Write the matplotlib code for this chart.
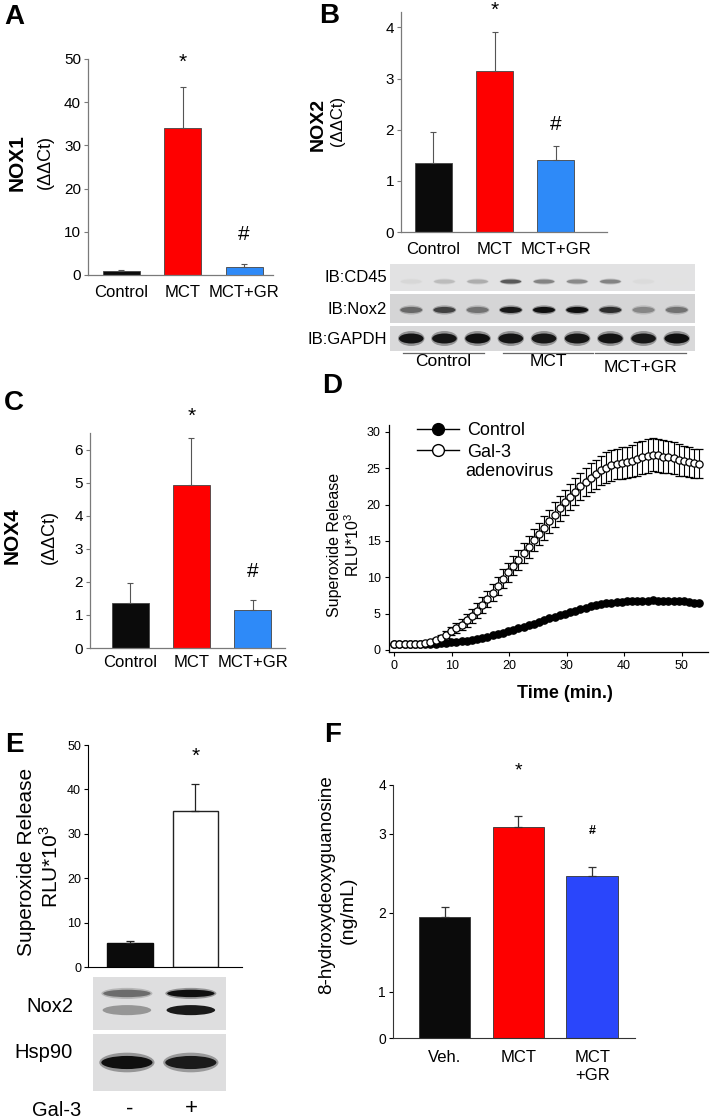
import numpy as np
import matplotlib.pyplot as plt
from matplotlib.patches import Ellipse
from matplotlib.lines import Line2D

plt.rcParams['font.family'] = ['Liberation Sans', 'DejaVu Sans']
plt.rcParams['mathtext.fontset'] = 'custom'
plt.rcParams['mathtext.rm'] = 'Liberation Sans'

W, H = 714, 1118

# ---- data ----
groups = ['Control', 'MCT', 'MCT+GR']
nox1 = [1.0, 34.0, 1.9]
nox1_err = [0.2, 9.6, 0.6]
nox2 = [1.35, 3.14, 1.40]
nox2_err = [0.60, 0.76, 0.28]
nox4 = [1.36, 4.92, 1.16]
nox4_err = [0.61, 1.44, 0.30]

# western blot band strengths (0 = none, 1 = saturated), 9 lanes
cd45_bands = [0.05, 0.18, 0.25, 0.65, 0.45, 0.42, 0.45, 0.03, 0.0]
nox2_bands = [0.55, 0.75, 0.50, 0.95, 1.0, 1.0, 0.85, 0.40, 0.50]
gapdh_bands = [0.98, 0.97, 1.0, 0.97, 0.96, 0.97, 0.98, 0.96, 1.0]
blot_groups = ['Control', 'MCT', 'MCT+GR']

# superoxide time course (min), sampled every 0.9 min
time_min = np.arange(60) * 0.9
ctrl_curve = [0.8, 0.8, 0.8, 0.8, 0.8, 0.8, 0.8, 0.8, 0.85, 0.9,
              1.0, 1.05, 1.1, 1.2, 1.3, 1.4, 1.5, 1.7, 1.8, 2.0,
              2.2, 2.4, 2.6, 2.8, 3.0, 3.2, 3.4, 3.6, 3.9, 4.1,
              4.4, 4.6, 4.8, 5.0, 5.2, 5.4, 5.6, 5.8, 6.0, 6.2,
              6.3, 6.4, 6.5, 6.6, 6.6, 6.7, 6.7, 6.8, 6.7, 6.8,
              6.9, 6.8, 6.7, 6.8, 6.8, 6.7, 6.7, 6.6, 6.5, 6.4]
gal3_curve = [0.8, 0.8, 0.8, 0.8, 0.8, 0.85, 0.95, 1.1, 1.4, 1.7,
              2.1, 2.6, 3.0, 3.5, 4.1, 4.7, 5.4, 6.2, 7.0, 7.9,
              8.8, 9.8, 10.7, 11.6, 12.4, 13.3, 14.2, 15.1, 16.0, 16.8,
              17.7, 18.6, 19.5, 20.3, 21.0, 21.8, 22.5, 23.1, 23.7, 24.2,
              24.7, 25.1, 25.4, 25.6, 25.7, 25.8, 26.0, 26.3, 26.5, 26.7,
              26.9, 26.8, 26.6, 26.5, 26.4, 26.2, 26.0, 25.9, 25.7, 25.6]
gal3_sem = [0.0, 0.0, 0.0, 0.0, 0.0, 0.05, 0.1, 0.15, 0.2, 0.3,
            0.5, 0.6, 0.7, 0.8, 0.9, 1.0, 1.0, 1.1, 1.1, 1.2,
            1.2, 1.3, 1.3, 1.3, 1.4, 1.4, 1.5, 1.5, 1.5, 1.6,
            1.6, 1.7, 1.7, 1.7, 1.8, 1.8, 1.9, 1.9, 2.0, 2.0,
            2.0, 2.1, 2.1, 2.1, 2.2, 2.2, 2.2, 2.3, 2.3, 2.3,
            2.3, 2.3, 2.3, 2.2, 2.2, 2.2, 2.1, 2.1, 2.0, 2.0]

gal3_labels = ['-', '+']
e_vals = [5.4, 35.1]
e_err = [0.4, 6.1]
e_nox2_upper = [0.55, 1.0]
e_nox2_lower = [0.35, 0.95]
hsp90_bands = [1.0, 0.95]

f_groups = ['Veh.', 'MCT', 'MCT\n+GR']
f_vals = [1.94, 3.14, 2.47]
f_err = [0.13, 0.23, 0.11]

fig = plt.figure(figsize=(W / 100, H / 100), dpi=100)


def add_ax(l, t, r, b):
    return fig.add_axes([l / W, 1 - b / H, (r - l) / W, (b - t) / H])


def ftext(x, y, s, **kw):
    fig.text(x / W, 1 - y / H, s, **kw)


def bar_panel(box, vals, errs, colors, labels, xlim, ylim, yticks,
              width=0.6, spine='#7a7a7a', tick_fs=11, lab_fs=12, pad=7,
              edge='#444444'):
    ax = add_ax(*box)
    x = np.arange(len(vals))
    ax.bar(x, vals, width=width, color=colors, edgecolor=edge, linewidth=0.6, zorder=2)
    ax.errorbar(x, vals, yerr=[np.zeros(len(vals)), errs], fmt='none',
                ecolor='#555555', elinewidth=0.8, capsize=2.5, capthick=0.8, zorder=3)
    ax.set_xlim(*xlim)
    ax.set_ylim(*ylim)
    ax.set_yticks(yticks)
    ax.set_xticks(x)
    ax.set_xticklabels(labels, fontsize=lab_fs)
    ax.tick_params(axis='x', length=0, pad=pad)
    ax.tick_params(axis='y', length=3, width=0.8, color=spine, labelsize=tick_fs, pad=2)
    for s in ['top', 'right']:
        ax.spines[s].set_visible(False)
    for s in ['left', 'bottom']:
        ax.spines[s].set_color(spine)
        ax.spines[s].set_linewidth(0.9)
    return ax


def mark(ax, i, y, sym, px_up, fs=14, bold=False):
    ax.annotate(sym, (i, y), xytext=(0, px_up * 0.72), textcoords='offset points',
                ha='center', va='center', fontsize=fs,
                fontweight='bold' if bold else 'normal', annotation_clip=False)


def blot_strip(box, bands, bg, xlim, bw, bh, yc=0.0):
    ax = add_ax(*box)
    ax.set_xlim(*xlim)
    ax.set_ylim(-1, 1)
    ax.set_facecolor((bg, bg, bg + 0.005))
    ax.set_xticks([])
    ax.set_yticks([])
    for s in ax.spines.values():
        s.set_visible(False)
    for i, v in enumerate(bands):
        g = bg * (1 - v) + 0.06 * v
        ax.add_patch(Ellipse((i, yc), bw * 1.08, bh * 1.5, color=(g, g, g), alpha=0.35, lw=0))
        ax.add_patch(Ellipse((i, yc), bw, bh, color=(g, g, g), lw=0))
    return ax


cols3 = ['#0b0b0b', '#fe0000', '#2e8af8']

# ---- A ----
axA = bar_panel((88, 59, 273, 275), nox1, nox1_err, cols3, groups,
                (-0.545, 2.47), (0, 50), [0, 10, 20, 30, 40, 50])
mark(axA, 1, nox1[1] + nox1_err[1], '*', 24, fs=15)
mark(axA, 2, nox1[2] + nox1_err[2], '#', 30, fs=15)
ftext(14, 17, 'A', fontsize=20, fontweight='bold', ha='center', va='center')
ftext(17, 163, 'NOX1', fontsize=15, fontweight='bold', rotation=90, ha='center', va='center')
ftext(45, 162, '(ΔΔCt)', fontsize=13, rotation=90, ha='center', va='center')

# ---- B ----
axB = bar_panel((401, 12, 607, 232), nox2, nox2_err, cols3, groups,
                (-0.53, 2.84), (0, 4.3), [0, 1, 2, 3, 4])
mark(axB, 1, nox2[1] + nox2_err[1], '*', 22, fs=15)
mark(axB, 2, nox2[2] + nox2_err[2], '#', 22, fs=15)
ftext(329, 16, 'B', fontsize=20, fontweight='bold', ha='center', va='center')
ftext(318, 124, 'NOX2', fontsize=14, fontweight='bold', rotation=90, ha='center', va='center')
ftext(337, 121, '(ΔΔCt)', fontsize=12, rotation=90, ha='center', va='center')

blot_x = (-0.64, 8.55)
blot_strip((390, 264, 695, 291), cd45_bands, 0.885, blot_x, 0.62, 0.3, -0.3)
blot_strip((390, 294, 695, 323), nox2_bands, 0.835, blot_x, 0.66, 0.42, -0.1)
blot_strip((390, 326, 695, 351), gapdh_bands, 0.85, blot_x, 0.74, 0.8, 0.0)
for lab, y in zip(['IB:CD45', 'IB:Nox2', 'IB:GAPDH'], [278, 309, 339]):
    ftext(387, y, lab, fontsize=12, ha='right', va='center')
for lab, (x1, x2), ty in zip(blot_groups, [(403, 484), (503, 593), (595, 686)], [362, 362, 367]):
    fig.add_artist(Line2D([x1 / W, x2 / W], [1 - 353 / H] * 2, color='#666666', lw=0.9))
    ftext((x1 + x2) / 2, ty, lab, fontsize=12.5, ha='center', va='center')

# ---- C ----
axC = bar_panel((90, 433, 285, 648), nox4, nox4_err, cols3, groups,
                (-0.66, 2.53), (0, 6.5), [0, 1, 2, 3, 4, 5, 6], pad=5)
mark(axC, 1, nox4[1] + nox4_err[1], '*', 21, fs=15)
mark(axC, 2, nox4[2] + nox4_err[2], '#', 28, fs=15)
ftext(14, 403, 'C', fontsize=20, fontweight='bold', ha='center', va='center')
ftext(12, 536, 'NOX4', fontsize=15, fontweight='bold', rotation=90, ha='center', va='center')
ftext(49, 537, '(ΔΔCt)', fontsize=13, rotation=90, ha='center', va='center')

# ---- D ----
axD = add_ax(389, 425, 708, 652)
axD.plot(time_min, ctrl_curve, 'o-', color='black', ms=5.2, lw=1, zorder=2)
axD.errorbar(time_min, gal3_curve, yerr=gal3_sem, fmt='o', mfc='white', mec='black',
             ms=5.2, mew=0.9, ecolor='black', elinewidth=0.8, capsize=2.6, capthick=0.8, zorder=3)
axD.set_xlim(-0.92, 54.6)
axD.set_ylim(-0.28, 30.96)
axD.set_xticks([0, 10, 20, 30, 40, 50])
axD.set_yticks([0, 5, 10, 15, 20, 25, 30])
axD.tick_params(length=3, width=0.8, labelsize=9, pad=3)
for s in ['top', 'right']:
    axD.spines[s].set_visible(False)
for s in ['left', 'bottom']:
    axD.spines[s].set_linewidth(0.9)
h1 = Line2D([], [], color='black', marker='o', mfc='black', ms=8.5, lw=1)
h2 = Line2D([], [], color='black', marker='o', mfc='white', mec='black', ms=8.5, lw=1)
axD.legend([h1, h2], ['Control', 'Gal-3'], loc='upper left', frameon=False, fontsize=13,
           handlelength=2.3, handletextpad=0.5, labelspacing=0.25, borderpad=0,
           bbox_to_anchor=(408 / W, 1 - 413 / H), bbox_transform=fig.transFigure)
ftext(465, 472, 'adenovirus', fontsize=13, ha='left', va='center')
ftext(332, 386, 'D', fontsize=20, fontweight='bold', ha='center', va='center')
ftext(335, 545, 'Superoxide Release', fontsize=11.5, rotation=90, ha='center', va='center')
ftext(353, 545, r'RLU*10$^{3}$', fontsize=11.5, rotation=90, ha='center', va='center')
ftext(565, 693, 'Time (min.)', fontsize=13, fontweight='bold', ha='center', va='center')

# ---- E ----
axE = add_ax(88, 745, 242, 967)
xe = np.arange(len(e_vals))
axE.bar(xe, e_vals, width=0.7, color=['#0b0b0b', 'white'], edgecolor=['#0b0b0b', '#222222'],
        linewidth=1, zorder=2)
axE.errorbar(xe, e_vals, yerr=[np.zeros(2), e_err], fmt='none', ecolor='#222222',
             elinewidth=0.9, capsize=3, capthick=0.9, zorder=3)
axE.set_xlim(-0.64, 1.71)
axE.set_ylim(0, 50)
axE.set_yticks([0, 10, 20, 30, 40, 50])
axE.set_xticks([])
axE.tick_params(axis='y', length=3, width=0.8, labelsize=9, pad=2)
for s in ['top', 'right']:
    axE.spines[s].set_visible(False)
mark(axE, 1, e_vals[1] + e_err[1], '*', 28, fs=15)
ftext(14, 745, 'E', fontsize=20, fontweight='bold', ha='center', va='center')
ftext(27, 862, 'Superoxide Release', fontsize=15, rotation=90, ha='center', va='center')
ftext(51, 867, r'RLU*10$^{3}$', fontsize=15, rotation=90, ha='center', va='center')

e_x = (-0.53, 1.55)
axN = blot_strip((93, 977, 226, 1030), e_nox2_upper, 0.87, e_x, 0.74, 0.28, 0.38)
for i, v in enumerate(e_nox2_lower):
    g = 0.87 * (1 - v) + 0.06 * v
    axN.add_patch(Ellipse((i, -0.25), 0.76, 0.38, color=(g, g, g), lw=0))
blot_strip((93, 1034, 226, 1091), hsp90_bands, 0.87, e_x, 0.8, 0.46, 0.0)
ftext(73, 1007, 'Nox2', fontsize=14.5, ha='right', va='center')
ftext(73, 1053, 'Hsp90', fontsize=14.5, ha='right', va='center')
ftext(57, 1110, 'Gal-3', fontsize=14.5, ha='center', va='center')
for i, lab in enumerate(gal3_labels):
    ftext([130, 191][i], 1109, lab, fontsize=16, ha='center', va='center')

# ---- F ----
f_ticks = [0, 1, 2, 3, 4]
f_px = [0, 46.3, 125.3, 204.0, 252.7]


def f_fwd(v):
    return np.interp(v, f_ticks, f_px)


def f_inv(p):
    return np.interp(p, f_px, f_ticks)


axF = add_ax(393, 785, 635, 1038)
axF.set_yscale('function', functions=(f_fwd, f_inv))
xf = np.arange(len(f_vals))
axF.bar(xf, f_vals, width=0.7, color=['#0b0b0b', '#fe0000', '#2a46fb'],
        edgecolor='#333333', linewidth=0.6, zorder=2)
axF.errorbar(xf, f_vals, yerr=[np.zeros(3), f_err], fmt='none', ecolor='#333333',
             elinewidth=0.9, capsize=3, capthick=0.9, zorder=3)
axF.set_xlim(-0.70, 2.58)
axF.set_ylim(0, 4)
axF.set_yticks(f_ticks)
axF.set_yticks([], minor=True)
axF.set_xticks(xf)
axF.set_xticklabels(f_groups, fontsize=12, va='top')
axF.tick_params(axis='x', length=0, pad=9)
axF.tick_params(axis='y', length=3, width=0.8, labelsize=10, pad=2)
for s in ['top', 'right']:
    axF.spines[s].set_visible(False)
for s in ['left', 'bottom']:
    axF.spines[s].set_color('#333333')
mark(axF, 1, f_vals[1] + f_err[1], '*', 45, fs=14)
mark(axF, 2, f_vals[2] + f_err[2], '#', 36, fs=9, bold=True)
ftext(333, 735, 'F', fontsize=20, fontweight='bold', ha='center', va='center')
ftext(327, 885, '8-hydroxydeoxyguanosine', fontsize=13.5, rotation=90, ha='center', va='center')
ftext(348, 910, '(ng/mL)', fontsize=14, rotation=90, ha='center', va='center')

fig.savefig('out.png', dpi=100)
